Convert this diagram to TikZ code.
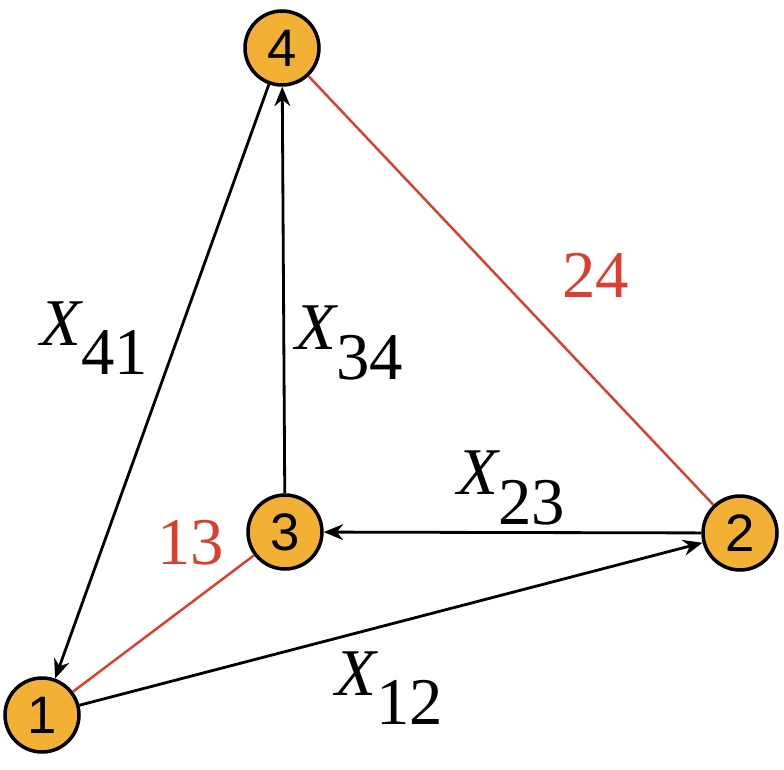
\documentclass[tikz,border=0pt]{standalone}
\usepackage{fontspec}
\setmainfont{Liberation Serif}
\newfontfamily\numfont{Liberation Sans}
\usetikzlibrary{arrows.meta}
\definecolor{nodeor}{HTML}{F2B134}
\definecolor{lred}{HTML}{D9402E}
\tikzset{
 vert/.style={circle,draw=black,line width=2pt,fill=nodeor,minimum size=1.48cm,inner sep=0pt,font=\numfont\fontsize{30}{30}\selectfont},
 arr/.style={line width=1.6pt,-{Stealth[length=11pt,width=9pt]}},
 rline/.style={lred,line width=1.4pt},
 lab/.style={font=\fontsize{38}{38}\selectfont},
}
\begin{document}
\begin{tikzpicture}[x=0.02cm,y=-0.02cm]
\useasboundingbox (0,0) rectangle (784,770);
\node[vert] (n4) at (282,48) {4};
\node[vert] (n3) at (285,532) {3};
\node[vert] (n2) at (740,533) {2};
\node[vert] (n1) at (42,715) {1};
\begin{scope}[on background layer/.try]
\end{scope}
\draw[rline] (n1) -- (n3);
\draw[rline] (n4) -- (n2);
\draw[arr] (n4) -- (n1);
\draw[arr] (n3) -- (n4);
\draw[arr] (n2) -- (n3);
\draw[arr] (n1) -- (n2);
\node[lab] (l41) at (95,338) {$\mathit{X}_{\textrm{41}}$};
\node[lab] (l34) at (350,343) {$\mathit{X}_{\textrm{34}}$};
\node[lab] (l23) at (512,488) {$\mathit{X}_{\textrm{23}}$};
\node[lab] (l12) at (390,688) {$\mathit{X}_{\textrm{12}}$};
\node[lab,text=lred] (l24) at (570,275) {$\mathrm{\Lambda}_{\textrm{24}}$};
\node[lab,text=lred] (l13) at (165,543) {$\mathrm{\Lambda}_{\textrm{13}}$};
\end{tikzpicture}
\end{document}
